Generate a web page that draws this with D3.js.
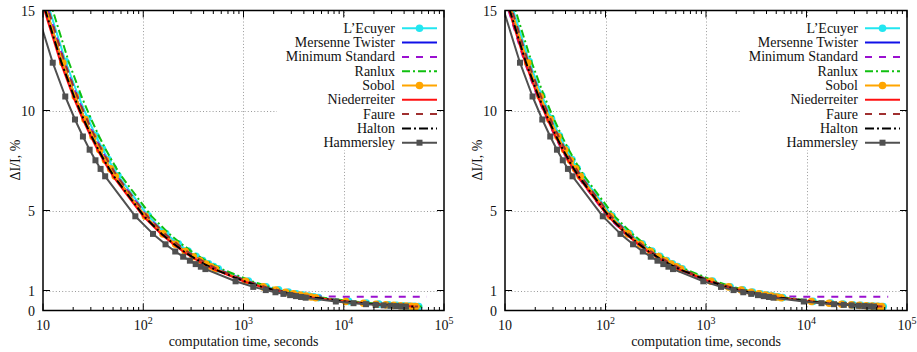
<!DOCTYPE html>
<html><head><meta charset="utf-8">
<script src="https://cdn.jsdelivr.net/npm/d3@7"></script>
<style>body{margin:0;background:#fff}svg{display:block}</style>
</head><body><svg id="c" width="917" height="352"></svg>
<script>
// ---------- data ----------
const seriesNames = ["L\u2019Ecuyer","Mersenne Twister","Minimum Standard","Ranlux","Sobol","Niederreiter","Faure","Halton","Hammersley"];
const samples = [1,2,3,4,5,6,7,8,9,10,20,30,40,50,60,70,80,90,100,200,300,400,500,600,700,800,900,1000,2000,3000,4000,5000,6000,7000,8000,9000,10000];
const samplesMinStd = [1,2,3,4,5,6,7,8,9,10,20,30,40,50,60,70,80,90,100,200,300,400,500,600,700,800,900,1000,2000,4000,6000,8000,10000,12500];
const errPseudo = [21.8,15.3,12.45,10.75,9.6,8.74,8.08,7.55,7.11,6.74,4.73,3.85,3.33,2.97,2.71,2.5,2.34,2.2,2.08,1.47,1.19,1.03,0.92,0.84,0.775,0.725,0.682,0.645,0.455,0.37,0.32,0.285,0.26,0.24,0.224,0.211,0.2];
const errQuasi = [21.7,15.24,12.39,10.7,9.55,8.7,8.04,7.51,7.08,6.71,4.71,3.83,3.31,2.95,2.69,2.49,2.32,2.19,2.07,1.46,1.18,1.02,0.912,0.831,0.768,0.718,0.676,0.64,0.45,0.366,0.316,0.282,0.257,0.237,0.222,0.209,0.198];
const errMinStd = [21.8,15.3,12.45,10.75,9.6,8.74,8.08,7.55,7.11,6.74,4.73,3.85,3.33,2.97,2.71,2.5,2.34,2.2,2.08,1.47,1.19,1.03,0.93,0.85,0.79,0.75,0.72,0.7,0.69,0.69,0.69,0.69,0.69,0.69];
// seconds per sample for each generator (left panel / right panel)
const secPerSampleLeft  = [5.6,5.2,5.4,6.0,5.25,5.0,5.5,5.1,4.17];
const secPerSampleRight = [5.8,5.5,5.2,6.1,5.6,5.3,5.7,5.4,4.7];
const xTickValues = [10,100,1000,10000,100000];
const xTickExp = ["", "2", "3", "4", "5"];
const yTickValues = [0,1,5,10,15];
const xGridValues = [100,1000,10000];
const yGridValues = [1,5,10];
const xLabel = "computation time, seconds";
const yLabel = "\u0394I/I, %";

// ---------- styles ----------
const seriesErr = [errPseudo, errPseudo, errMinStd, errPseudo, errQuasi, errQuasi, errQuasi, errQuasi, errQuasi];
const seriesSamples = [samples, samples, samplesMinStd, samples, samples, samples, samples, samples, samples];
const styles = [
  {color:"#22e6f0", dash:null, marker:"circle"},
  {color:"#1010e8", dash:null, marker:null},
  {color:"#9a10d0", dash:"7,7", marker:null},
  {color:"#10c010", dash:"8,3,2,3", marker:null},
  {color:"#ffa500", dash:null, marker:"circle"},
  {color:"#ff1010", dash:null, marker:null},
  {color:"#a03030", dash:"7,7", marker:null},
  {color:"#000000", dash:"9,3,2,3", marker:null},
  {color:"#505050", dash:null, marker:"square"}
];
const FONT = "'Liberation Serif','Times New Roman',serif";
const svg = d3.select("#c");

function panel(id, x0, x1, costs){
  const y0 = 310.5, y1 = 10.5;
  const x = d3.scaleLog().domain([10,1e5]).range([x0,x1]);
  const y = d3.scaleLinear().domain([0,15]).range([y0,y1]);
  const g = svg.append("g");
  g.append("clipPath").attr("id","clip"+id).append("rect")
    .attr("x",x0).attr("y",y1).attr("width",x1-x0).attr("height",y0-y1);

  // grid
  const grid = g.append("g").attr("stroke","#9a9a9a").attr("stroke-width",1).attr("stroke-dasharray","1,2.2");
  grid.selectAll("line.gx").data(xGridValues).join("line")
    .attr("x1",d=>Math.round(x(d))+0.5).attr("x2",d=>Math.round(x(d))+0.5).attr("y1",y0).attr("y2",y1);
  grid.selectAll("line.gy").data(yGridValues).join("line")
    .attr("y1",d=>Math.round(y(d))+0.5).attr("y2",d=>Math.round(y(d))+0.5).attr("x1",x0).attr("x2",x1);

  // series
  const data = seriesNames.map((n,i)=>({name:n, st:styles[i],
    pts: seriesSamples[i].map((s,k)=>({t:s*costs[i], v:seriesErr[i][k]}))}));
  const line = d3.line().x(d=>x(d.t)).y(d=>y(d.v));
  const plot = g.append("g").attr("clip-path","url(#clip"+id+")");
  data.forEach(s=>{
    const p = plot.append("path").datum(s.pts).attr("d",line)
      .attr("fill","none").attr("stroke",s.st.color).attr("stroke-width",2).attr("stroke-linejoin","round");
    if(s.st.dash) p.attr("stroke-dasharray",s.st.dash);
    if(s.st.marker==="circle"){
      plot.selectAll(null).data(s.pts).join("circle").attr("cx",d=>x(d.t)).attr("cy",d=>y(d.v))
        .attr("r",3.8).attr("fill",s.st.color);
    } else if(s.st.marker==="square"){
      plot.selectAll(null).data(s.pts).join("rect").attr("x",d=>x(d.t)-3).attr("y",d=>y(d.v)-3)
        .attr("width",6).attr("height",6).attr("fill",s.st.color);
    }
  });

  // legend
  const lg = g.append("g");
  lg.append("rect").attr("x",x1-167).attr("y",18).attr("width",162).attr("height",132).attr("fill","#fff");
  data.forEach((s,i)=>{
    const yy = 28.3 + i*14.3;
    lg.append("text").attr("x",x1-49).attr("y",yy+4.5).attr("text-anchor","end")
      .attr("font-family",FONT).attr("font-size",14).attr("fill","#111").text(s.name);
    const l = lg.append("line").attr("x1",x1-42).attr("x2",x1-7).attr("y1",yy).attr("y2",yy)
      .attr("stroke",s.st.color).attr("stroke-width",2);
    if(s.st.dash) l.attr("stroke-dasharray",s.st.dash);
    if(s.st.marker==="circle") lg.append("circle").attr("cx",x1-24.5).attr("cy",yy).attr("r",3.8).attr("fill",s.st.color);
    if(s.st.marker==="square") lg.append("rect").attr("x",x1-27.5).attr("y",yy-3).attr("width",6).attr("height",6).attr("fill",s.st.color);
  });

  // ticks
  const tk = g.append("g").attr("stroke","#000").attr("stroke-width",1);
  const minor = [];
  for(let e=10;e<1e5;e*=10) for(let m=2;m<10;m++) minor.push(e*m);
  xTickValues.forEach(v=>{
    tk.append("line").attr("x1",x(v)).attr("x2",x(v)).attr("y1",y0).attr("y2",y0-7);
    tk.append("line").attr("x1",x(v)).attr("x2",x(v)).attr("y1",y1).attr("y2",y1+7);
  });
  minor.forEach(v=>{
    tk.append("line").attr("x1",x(v)).attr("x2",x(v)).attr("y1",y0).attr("y2",y0-3.5);
    tk.append("line").attr("x1",x(v)).attr("x2",x(v)).attr("y1",y1).attr("y2",y1+3.5);
  });
  yTickValues.forEach(v=>{
    tk.append("line").attr("x1",x0).attr("x2",x0+7).attr("y1",y(v)).attr("y2",y(v));
    tk.append("line").attr("x1",x1).attr("x2",x1-7).attr("y1",y(v)).attr("y2",y(v));
  });

  // frame
  g.append("rect").attr("x",x0).attr("y",y1).attr("width",x1-x0).attr("height",y0-y1)
    .attr("fill","none").attr("stroke","#000").attr("stroke-width",1.5);

  // tick labels
  xTickValues.forEach((v,i)=>{
    const t = g.append("text").attr("x",x(v)).attr("y",329.5).attr("text-anchor","middle")
      .attr("font-family",FONT).attr("font-size",14).attr("fill","#111");
    t.append("tspan").text("10");
    if(xTickExp[i]) t.append("tspan").attr("dy",-6).attr("font-size",10).text(xTickExp[i]);
  });
  yTickValues.forEach(v=>{
    g.append("text").attr("x",x0-8).attr("y",y(v)+5).attr("text-anchor","end")
      .attr("font-family",FONT).attr("font-size",14).attr("fill","#111").text(v);
  });
  g.append("text").attr("x",(x0+x1)/2).attr("y",346).attr("text-anchor","middle")
    .attr("font-family",FONT).attr("font-size",14).attr("fill","#111").text(xLabel);
  g.append("text").attr("transform",`translate(${x0-23},160) rotate(-90)`).attr("text-anchor","middle")
    .attr("font-family",FONT).attr("font-size",14).attr("fill","#111").text(yLabel);
}
panel("L", 43, 444, secPerSampleLeft);
panel("R", 505, 907, secPerSampleRight);
</script></body></html>
